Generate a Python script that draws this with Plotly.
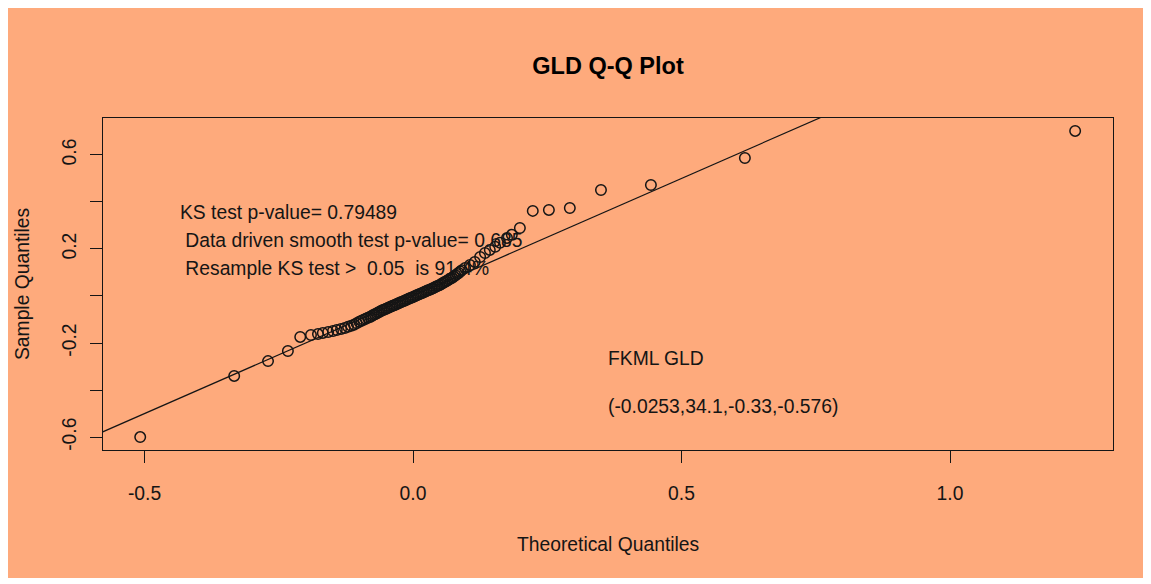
import plotly.graph_objects as go

# ---------------- data ----------------
low_theo = [-0.508, -0.333, -0.270, -0.233, -0.210, -0.190, -0.177, -0.168, -0.158, -0.149, -0.142, -0.134, -0.127]
low_samp = [-0.600, -0.340, -0.277, -0.234, -0.174, -0.166, -0.162, -0.157, -0.153, -0.149, -0.145, -0.140, -0.136]

mid_theo = [-0.121, -0.115, -0.110, -0.105, -0.100, -0.096, -0.092, -0.088, -0.084, -0.080,
            -0.077, -0.074, -0.071, -0.068, -0.065, -0.062, -0.059, -0.056, -0.053, -0.050,
            -0.047, -0.044, -0.041, -0.038, -0.035, -0.032, -0.029, -0.026, -0.023, -0.020,
            -0.017, -0.014, -0.011, -0.008, -0.005, -0.002, 0.001, 0.004, 0.007, 0.010,
            0.013, 0.016, 0.019, 0.022, 0.025, 0.028, 0.031, 0.034, 0.037, 0.040,
            0.043, 0.046, 0.049, 0.052, 0.055, 0.058, 0.061, 0.064, 0.067, 0.070,
            0.073, 0.076, 0.079, 0.082, 0.085, 0.088, 0.091]
mid_samp = [-0.131, -0.127, -0.122, -0.116, -0.110, -0.105, -0.101, -0.097, -0.093, -0.089,
            -0.085, -0.081, -0.078, -0.074, -0.070, -0.067, -0.063, -0.060, -0.057, -0.054,
            -0.051, -0.048, -0.045, -0.042, -0.039, -0.036, -0.033, -0.030, -0.027, -0.024,
            -0.021, -0.018, -0.015, -0.012, -0.009, -0.006, -0.003, 0.000, 0.003, 0.006,
            0.009, 0.012, 0.015, 0.018, 0.021, 0.024, 0.027, 0.030, 0.033, 0.036,
            0.040, 0.043, 0.046, 0.050, 0.054, 0.058, 0.062, 0.066, 0.070, 0.074,
            0.078, 0.083, 0.088, 0.093, 0.098, 0.104, 0.110]

up_theo = [0.097, 0.106, 0.115, 0.125, 0.134, 0.143, 0.153, 0.162, 0.175, 0.184, 0.199]
up_samp = [0.119, 0.132, 0.145, 0.166, 0.183, 0.196, 0.209, 0.226, 0.247, 0.260, 0.289]

tail_theo = [0.223, 0.253, 0.292, 0.350, 0.443, 0.618, 1.233]
tail_samp = [0.362, 0.366, 0.374, 0.451, 0.472, 0.587, 0.702]

theoretical = low_theo + mid_theo + up_theo + tail_theo
sample = low_samp + mid_samp + up_samp + tail_samp

ref_intercept = 0.0
ref_slope = 1.0

x_ticks = [-0.5, 0.0, 0.5, 1.0]
x_tick_labels = ["-0.5", "0.0", "0.5", "1.0"]
y_ticks = [-0.6, -0.4, -0.2, 0.0, 0.2, 0.4, 0.6]
y_tick_labels = ["-0.6", "", "-0.2", "", "0.2", "", "0.6"]

title_text = "GLD Q-Q Plot"
x_title = "Theoretical Quantiles"
y_title = "Sample Quantiles"
test_lines = ["KS test p-value= 0.79489",
              "\u00a0Data driven smooth test p-value= 0.685",
              "\u00a0Resample KS test >\u00a0\u00a00.05\u00a0\u00a0is 91.4%"]
gld_lines = ["FKML GLD", "(-0.0253,34.1,-0.33,-0.576)"]

# ---------------- styling ----------------
BG = "#FEAA7C"
INK = "#151515"
FONT = "Liberation Sans, Arial, Helvetica, sans-serif"
FS = 19.3

x_range = [-0.5773, 1.3035]
y_range = [-0.655, 0.757]

fig = go.Figure()

# reference line y = a + b x across the whole plotting region (clipped)
lx = [x_range[0] - 0.2, x_range[1] + 0.2]
ly = [ref_intercept + ref_slope * v for v in lx]
fig.add_trace(go.Scatter(x=lx, y=ly, mode="lines",
                         line=dict(color=INK, width=1.2),
                         hoverinfo="skip", showlegend=False))

fig.add_trace(go.Scatter(x=theoretical, y=sample, mode="markers",
                         marker=dict(symbol="circle-open", size=10.5, color=INK,
                                     line=dict(width=1.5, color=INK)),
                         showlegend=False))

annotations = []
test_y = [0.353, 0.234, 0.115]
for txt, yy in zip(test_lines, test_y):
    annotations.append(dict(x=-0.4376, y=yy, xref="x", yref="y", text=txt,
                            showarrow=False, xanchor="left", yanchor="middle",
                            font=dict(family=FONT, size=FS, color=INK)))
gld_y = [-0.264, -0.472]
for txt, yy in zip(gld_lines, gld_y):
    annotations.append(dict(x=0.3594, y=yy, xref="x", yref="y", text=txt,
                            showarrow=False, xanchor="left", yanchor="middle",
                            font=dict(family=FONT, size=FS, color=INK)))

annotations.append(dict(x=0.5, y=0, xref="paper", yref="paper", text=x_title,
                        showarrow=False, xanchor="center", yanchor="middle", yshift=-94,
                        font=dict(family=FONT, size=FS, color=INK)))
annotations.append(dict(x=0, y=0.5, xref="paper", yref="paper", text=y_title,
                        showarrow=False, xanchor="center", yanchor="middle", xshift=-81,
                        textangle=-90,
                        font=dict(family=FONT, size=FS, color=INK)))

fig.update_layout(
    width=1136, height=570,
    margin=dict(l=95, r=31, t=110, b=128, pad=0),
    paper_bgcolor=BG, plot_bgcolor=BG,
    title=dict(text="<b>" + title_text + "</b>", x=0.5, xref="paper",
               y=0.898, yref="container", xanchor="center", yanchor="middle",
               font=dict(family=FONT, size=23.5, color="#000000")),
    annotations=annotations,
    showlegend=False,
    xaxis=dict(range=x_range, tickvals=x_ticks, ticktext=x_tick_labels,
               ticks="outside", ticklen=12, tickwidth=1, tickcolor=INK,
               showline=True, mirror=True, linecolor=INK, linewidth=1.2,
               showgrid=False, zeroline=False, ticklabelstandoff=14,
               tickfont=dict(family=FONT, size=FS, color=INK)),
    yaxis=dict(range=y_range, tickvals=y_ticks, ticktext=y_tick_labels,
               ticks="outside", ticklen=12, tickwidth=1, tickcolor=INK,
               showline=True, mirror=True, linecolor=INK, linewidth=1.2,
               showgrid=False, zeroline=False, tickangle=-90, ticklabelstandoff=6,
               tickfont=dict(family=FONT, size=FS, color=INK)),
)

fig.write_html("out.html", config={"displayModeBar": False})
